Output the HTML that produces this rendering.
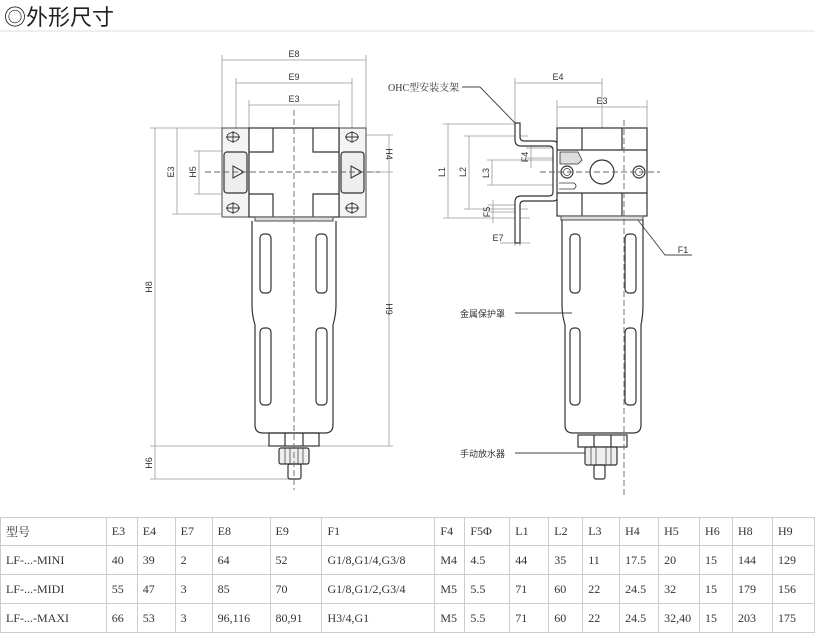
<!DOCTYPE html>
<html><head><meta charset="utf-8"><style>
html,body{margin:0;padding:0;background:#fff;width:815px;height:630px;overflow:hidden}
.t{position:absolute;left:4px;top:0;font:22px "Liberation Sans","Noto Sans CJK SC",sans-serif;color:#222}
svg{position:absolute;left:0;top:0}
table{position:absolute;left:0;top:517px;border-collapse:collapse;font:12px "Liberation Serif","Noto Serif CJK SC",serif;color:#333}
td{border:1px solid #ccc;padding:0 0 0 5px;height:28px;text-align:left}
tr:first-child td{height:27px}
</style></head><body>
<div class="t">◎外形尺寸</div>
<svg width="815" height="517" viewBox="0 0 815 517" font-family="Liberation Sans, Noto Sans CJK SC, sans-serif" font-size="9" fill="none" stroke="#333">
<line x1="0" y1="31" x2="815" y2="31" stroke="#ddd"/>
<!-- LEFT VIEW -->
<g stroke="#999" stroke-width="0.8">
<line x1="222" y1="55" x2="222" y2="128"/><line x1="366" y1="55" x2="366" y2="128"/>
<line x1="236" y1="78" x2="236" y2="135"/><line x1="352" y1="78" x2="352" y2="135"/>
<line x1="249" y1="100" x2="249" y2="128"/><line x1="339" y1="100" x2="339" y2="128"/>
<line x1="222" y1="60" x2="366" y2="60"/><line x1="236" y1="83" x2="352" y2="83"/><line x1="249" y1="105" x2="339" y2="105"/>
<line x1="150" y1="128" x2="249" y2="128"/><line x1="172" y1="214" x2="249" y2="214"/>
<line x1="194" y1="151" x2="249" y2="151"/><line x1="194" y1="194" x2="249" y2="194"/>
<line x1="155" y1="128" x2="155" y2="479"/><line x1="177" y1="128" x2="177" y2="214"/><line x1="199" y1="151" x2="199" y2="194"/>
<line x1="150" y1="446" x2="393" y2="446"/><line x1="150" y1="479" x2="290" y2="479"/>
<line x1="366" y1="135" x2="393" y2="135"/><line x1="366" y1="172" x2="393" y2="172"/>
<line x1="389" y1="135" x2="389" y2="446"/>
</g>
<g fill="#333" stroke="none" font-size="9" text-anchor="middle">
<text x="294" y="57">E8</text><text x="294" y="80">E9</text><text x="294" y="102">E3</text>
<text transform="translate(174,172) rotate(-90)">E3</text>
<text transform="translate(196,172) rotate(-90)">H5</text>
<text transform="translate(152,287) rotate(-90)">H8</text>
<text transform="translate(152,463) rotate(-90)">H6</text>
<text transform="translate(386,154) rotate(90)">H4</text>
<text transform="translate(386,309) rotate(90)">H9</text>
</g>
<g stroke-width="1.2">
<rect x="222" y="128" width="27" height="89" fill="#f4f4f4" stroke="#666"/>
<rect x="339" y="128" width="27" height="89" fill="#f4f4f4" stroke="#666"/>
<rect x="249" y="128" width="90" height="89" fill="#fff"/>
<path d="M273 128V152H249M313 128V152H339M273 217V194H249M313 217V194H339"/>
<rect x="224" y="152" width="23" height="41" rx="3" fill="#eee"/>
<rect x="341" y="152" width="23" height="41" rx="3" fill="#eee"/>
<path d="M233 166L244 172L233 178Z M351 166L362 172L351 178Z" stroke-width="1"/>
<g stroke-width="0.9"><ellipse cx="233" cy="137" rx="6" ry="4.5"/><ellipse cx="352" cy="137" rx="6" ry="4.5"/><ellipse cx="233" cy="208" rx="6" ry="4.5"/><ellipse cx="352" cy="208" rx="6" ry="4.5"/>
<path d="M233 131V143M352 131V143M233 202V214M352 202V214M226 137H240M345 137H359M226 208H240M345 208H359"/></g>
<rect x="255" y="217" width="78" height="4" fill="#ddd" stroke="#666"/>
<path d="M252 221V305Q252 315 255 325V425Q255 433 263 433H325Q333 433 333 425V325Q336 315 336 305V221"/>
<rect x="260" y="234" width="11" height="59" rx="4"/><rect x="316" y="234" width="11" height="59" rx="4"/>
<rect x="260" y="328" width="11" height="77" rx="4"/><rect x="316" y="328" width="11" height="77" rx="4"/>
<rect x="269" y="433" width="50" height="13"/><path d="M285 433V446M303 433V446"/>
<rect x="279" y="448" width="30" height="16" rx="2" fill="#eee"/><path d="M285 448V464M290 448V464M298 448V464M303 448V464" stroke-width="0.7"/>
<rect x="288" y="464" width="13" height="15" rx="2"/>
</g>
<line x1="294" y1="110" x2="294" y2="490" stroke="#666" stroke-dasharray="6,3" stroke-width="0.9"/>
<line x1="205" y1="172" x2="380" y2="172" stroke="#666" stroke-dasharray="6,3" stroke-width="0.9"/>
<!-- RIGHT VIEW -->
<g stroke="#999" stroke-width="0.8">
<line x1="515" y1="78" x2="515" y2="123"/><line x1="602" y1="78" x2="602" y2="160"/>
<line x1="557" y1="100" x2="557" y2="128"/><line x1="647" y1="100" x2="647" y2="128"/>
<line x1="515" y1="83" x2="602" y2="83"/><line x1="557" y1="107" x2="647" y2="107"/>
<line x1="443" y1="124" x2="515" y2="124"/><line x1="443" y1="218" x2="530" y2="218"/>
<line x1="464" y1="136" x2="528" y2="136"/><line x1="464" y1="209" x2="528" y2="209"/>
<line x1="487" y1="160" x2="560" y2="160"/><line x1="487" y1="185" x2="560" y2="185"/>
<line x1="448" y1="124" x2="448" y2="218"/><line x1="469" y1="136" x2="469" y2="209"/><line x1="492" y1="160" x2="492" y2="185"/>
<line x1="493" y1="200" x2="493" y2="223"/><line x1="488" y1="205" x2="520" y2="205"/><line x1="488" y1="212" x2="520" y2="212"/>
<line x1="531" y1="142" x2="531" y2="168"/><line x1="526" y1="148" x2="560" y2="148"/><line x1="526" y1="158" x2="560" y2="158"/>
<line x1="515" y1="225" x2="515" y2="246"/><line x1="520" y1="225" x2="520" y2="246"/>
<line x1="500" y1="243" x2="530" y2="243"/>
<line x1="558" y1="138" x2="575" y2="138"/><line x1="575" y1="135" x2="575" y2="150"/>
</g>
<g stroke="#444" stroke-width="0.9"><path d="M462 87H480L515 123"/><path d="M589 157L665 255H692"/><path d="M515 313H572"/><path d="M515 453H585"/></g>
<g fill="#333" stroke="none" text-anchor="middle">
<text x="558" y="80">E4</text><text x="602" y="104">E3</text><text x="566" y="138">C1</text>
<text transform="translate(445,172) rotate(-90)">L1</text>
<text transform="translate(466,172) rotate(-90)">L2</text>
<text transform="translate(489,173) rotate(-90)">L3</text>
<text transform="translate(528,157) rotate(-90)">F4</text>
<text transform="translate(490,212) rotate(-90)">F5</text>
<text x="498" y="241">E7</text><text x="683" y="253">F1</text>
<g font-family="Liberation Serif, Noto Serif CJK SC, serif" font-size="10" text-anchor="start"><text x="388" y="91">OHC型安装支架</text></g>
<g font-size="9" text-anchor="start"><text x="460" y="317">金属保护罩</text><text x="460" y="457">手动放水器</text></g>
</g>
<g stroke-width="1.2">
<path d="M515 123V140Q515 146 521 146H549Q553 146 553 150V192Q553 196 549 196H521Q515 196 515 202V243H520V205Q520 201 524 201H553Q558 201 558 196V146Q558 141 553 141H524Q520 141 520 137V123Z" fill="#fff"/>
<rect x="557" y="128" width="90" height="88" fill="#fff"/>
<path d="M582 128V150M622 128V150M582 193V216M622 193V216M557 150H647M557 193H647"/>
<path d="M560 152L578 152L582 160L578 164L560 164Z" fill="#ddd" stroke-width="0.8"/>
<circle cx="602" cy="172" r="12"/>
<circle cx="567" cy="172" r="6"/><circle cx="567" cy="172" r="3.5" stroke-width="0.7"/>
<circle cx="639" cy="172" r="6"/><circle cx="639" cy="172" r="3.5" stroke-width="0.7"/>
<path d="M559 183H574Q578 186 574 189H559" stroke-width="0.8"/>
<rect x="561" y="216" width="82" height="4" fill="#ddd" stroke="#666"/>
<path d="M562 220V305Q562 315 565 325V425Q565 433 573 433H633Q641 433 641 425V325Q643 315 643 305V220"/>
<rect x="570" y="234" width="10" height="59" rx="4"/><rect x="625" y="234" width="11" height="59" rx="4"/>
<rect x="570" y="328" width="10" height="77" rx="4"/><rect x="625" y="328" width="11" height="77" rx="4"/>
<rect x="578" y="435" width="49" height="12"/><path d="M594 435V447M611 435V447"/>
<rect x="585" y="447" width="32" height="18" rx="2" fill="#eee"/><path d="M591 447V465M596 447V465M606 447V465M611 447V465" stroke-width="0.7"/>
<rect x="594" y="465" width="11" height="14" rx="2"/>
</g>
<line x1="624" y1="120" x2="624" y2="495" stroke="#666" stroke-dasharray="6,3" stroke-width="0.9"/>
<line x1="540" y1="172" x2="660" y2="172" stroke="#666" stroke-dasharray="6,3" stroke-width="0.9"/>
</svg>
<table>
<colgroup><col style="width:106px"><col style="width:31px"><col style="width:38px"><col style="width:37px"><col style="width:58px"><col style="width:52px"><col style="width:113px"><col style="width:30px"><col style="width:45px"><col style="width:39px"><col style="width:34px"><col style="width:37px"><col style="width:39px"><col style="width:41px"><col style="width:33px"><col style="width:40px"><col style="width:42px"></colgroup>
<tr><td>型号</td><td>E3</td><td>E4</td><td>E7</td><td>E8</td><td>E9</td><td>F1</td><td>F4</td><td>F5Φ</td><td>L1</td><td>L2</td><td>L3</td><td>H4</td><td>H5</td><td>H6</td><td>H8</td><td>H9</td></tr>
<tr><td>LF-...-MINI</td><td>40</td><td>39</td><td>2</td><td>64</td><td>52</td><td>G1/8,G1/4,G3/8</td><td>M4</td><td>4.5</td><td>44</td><td>35</td><td>11</td><td>17.5</td><td>20</td><td>15</td><td>144</td><td>129</td></tr>
<tr><td>LF-...-MIDI</td><td>55</td><td>47</td><td>3</td><td>85</td><td>70</td><td>G1/8,G1/2,G3/4</td><td>M5</td><td>5.5</td><td>71</td><td>60</td><td>22</td><td>24.5</td><td>32</td><td>15</td><td>179</td><td>156</td></tr>
<tr><td>LF-...-MAXI</td><td>66</td><td>53</td><td>3</td><td>96,116</td><td>80,91</td><td>H3/4,G1</td><td>M5</td><td>5.5</td><td>71</td><td>60</td><td>22</td><td>24.5</td><td>32,40</td><td>15</td><td>203</td><td>175</td></tr>
</table>
</body></html>
